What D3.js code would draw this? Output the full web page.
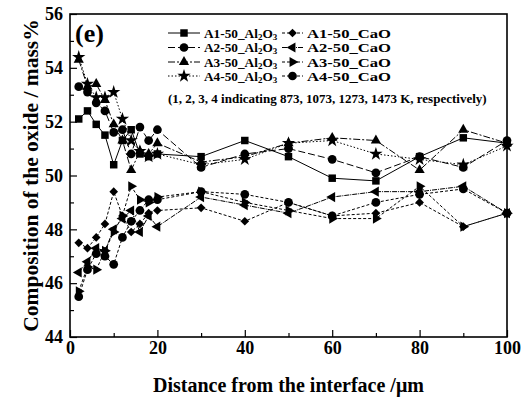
<!DOCTYPE html>
<html>
<head>
<meta charset="utf-8">
<script src="https://cdn.jsdelivr.net/npm/d3@7"></script>
<style>
  body { margin: 0; background: #fff; }
  svg text { font-family: "Liberation Serif", "Times New Roman", serif; font-weight: bold; }
</style>
</head>
<body>
<div id="chart"></div>
<script>
"use strict";

// distance from the interface (um)
const distances = [2, 4, 6, 8, 10, 12, 14, 16, 18, 20, 30, 40, 50, 60, 70, 80, 90, 100];

// Al2O3 content, mass%
const a1Al = [52.1, 52.4, 51.9, 51.5, 50.4, 51.3, 51.7, 50.8, 50.7, 50.8, 50.7, 51.3, 50.7, 49.9, 49.8, 50.7, 51.4, 51.2];
const a2Al = [53.3, 53.1, 52.7, 52.4, 51.6, 51.7, 50.8, 51.8, 51.3, 51.7, 50.3, 50.8, 51.0, 50.6, 50.1, 50.7, 50.3, 51.3];
const a3Al = [54.3, 53.3, 53.4, 52.8, 51.9, 51.3, 50.2, 50.9, 50.8, 51.2, 50.5, 50.7, 51.2, 51.4, 51.3, 50.2, 51.7, 51.2];
const a4Al = [54.4, 53.4, 52.9, 52.9, 53.1, 52.1, 51.3, 50.9, 50.7, 50.8, 50.4, 50.6, 51.2, 51.3, 50.8, 50.6, 50.4, 51.1];

// CaO content, mass%
const a1Ca = [47.5, 47.3, 47.7, 48.2, 49.4, 48.5, 47.9, 48.2, 48.6, 48.7, 48.8, 48.3, 49.0, 48.5, 48.6, 49.0, 48.1, 48.6];
const a2Ca = [46.4, 46.8, 47.3, 47.2, 48.0, 48.4, 48.7, 47.9, 48.5, 48.1, 49.2, 48.9, 48.6, 49.2, 49.4, 49.4, 49.6, 48.6];
const a3Ca = [45.7, 46.6, 46.5, 47.2, 47.9, 48.5, 49.6, 49.1, 49.0, 49.2, 49.4, 49.0, 48.7, 48.4, 48.4, 49.6, 48.1, 48.6];
const a4Ca = [45.5, 46.5, 47.1, 47.0, 46.7, 47.7, 48.3, 48.7, 49.1, 49.1, 49.4, 49.3, 49.0, 48.5, 49.0, 49.3, 49.5, 48.6];

const xTicks = [0, 20, 40, 60, 80, 100];
const yTicks = [44, 46, 48, 50, 52, 54, 56];

const series = [
  {name: "A1-50_Al", sub: true, values: a1Al, symbol: "square", dash: null},
  {name: "A2-50_Al", sub: true, values: a2Al, symbol: "circle", dash: "7,3"},
  {name: "A3-50_Al", sub: true, values: a3Al, symbol: "triangle", dash: "7,2,2,2"},
  {name: "A4-50_Al", sub: true, values: a4Al, symbol: "star", dash: "1.5,2"},
  {name: "A1-50_CaO", sub: false, values: a1Ca, symbol: "diamond", dash: "3,2"},
  {name: "A2-50_CaO", sub: false, values: a2Ca, symbol: "left", dash: "5,1,1,1"},
  {name: "A3-50_CaO", sub: false, values: a3Ca, symbol: "right", dash: "3,2"},
  {name: "A4-50_CaO", sub: false, values: a4Ca, symbol: "circle", dash: "3,2"}
];

function symbolPath(kind) {
  if (kind === "square") return d3.symbol(d3.symbolSquare, 56)();
  if (kind === "circle") return d3.symbol(d3.symbolCircle, 60)();
  if (kind === "star") return d3.symbol(d3.symbolStar, 55)();
  if (kind === "diamond") return d3.symbol(d3.symbolDiamond2, 48)();
  return d3.symbol(d3.symbolTriangle, 45)();
}
function symbolRotate(kind) {
  if (kind === "left") return -90;
  if (kind === "right") return 90;
  return 0;
}

const W = 524, H = 400;
const margin = {top: 14, right: 17, bottom: 63, left: 70};
const width = W - margin.left - margin.right,
      height = H - margin.top - margin.bottom;

const svg = d3.select("#chart").append("svg")
    .attr("width", W)
    .attr("height", H);

const g = svg.append("g")
    .attr("transform", `translate(${margin.left}, ${margin.top})`);

const x = d3.scaleLinear().domain([0, 100]).range([0, width]);
const y = d3.scaleLinear().domain([44, 56]).range([height, 0]);

// minor ticks
g.append("g")
    .attr("transform", `translate(0, ${height})`)
    .call(d3.axisBottom(x).tickValues([10, 30, 50, 70, 90]).tickSize(-4).tickFormat(""))
    .call(a => a.select(".domain").remove());
g.append("g")
    .call(d3.axisLeft(y).tickValues([45, 47, 49, 51, 53, 55]).tickSize(-4).tickFormat(""))
    .call(a => a.select(".domain").remove());

// major ticks
const xAxis = g.append("g")
    .attr("transform", `translate(0, ${height})`)
    .call(d3.axisBottom(x).tickValues(xTicks).tickSize(-7).tickPadding(4).tickSizeOuter(0));
xAxis.selectAll("text").attr("font-size", 18).attr("fill", "#000");

const yAxis = g.append("g")
    .call(d3.axisLeft(y).tickValues(yTicks).tickSize(-7).tickPadding(7).tickSizeOuter(0));
yAxis.selectAll("text").attr("font-size", 18).attr("fill", "#000");

g.selectAll(".tick line").attr("stroke", "#000").attr("stroke-width", 1.2);
g.selectAll(".domain").remove();

// frame
g.append("rect")
    .attr("width", width)
    .attr("height", height)
    .attr("fill", "none")
    .attr("stroke", "#000")
    .attr("stroke-width", 1.6);

const line = d3.line()
    .x((d, i) => x(distances[i]))
    .y(d => y(d));

series.forEach(s => {
  g.append("path")
      .datum(s.values)
      .attr("fill", "none")
      .attr("stroke", "#000")
      .attr("stroke-width", 1)
      .attr("stroke-dasharray", s.dash)
      .attr("d", line);
  g.append("g").selectAll("path")
      .data(s.values)
      .join("path")
      .attr("d", symbolPath(s.symbol))
      .attr("transform", (d, i) => `translate(${x(distances[i])}, ${y(d)}) rotate(${symbolRotate(s.symbol)})`)
      .attr("fill", "#000");
});

// legend
const legRows = [33, 47.5, 62, 76];
series.forEach((s, k) => {
  const col = k < 4 ? 0 : 1;
  const row = k % 4;
  const x0 = col === 0 ? 168 : 282;
  const len = col === 0 ? 32 : 21;
  const ly = legRows[row];
  const lg = svg.append("g");
  lg.append("line")
      .attr("x1", x0).attr("x2", x0 + len)
      .attr("y1", ly).attr("y2", ly)
      .attr("stroke", "#000")
      .attr("stroke-width", 1)
      .attr("stroke-dasharray", s.dash);
  lg.append("path")
      .attr("d", symbolPath(s.symbol))
      .attr("transform", `translate(${x0 + len / 2}, ${ly}) rotate(${symbolRotate(s.symbol)})`);
  // the CaO labels are set wider than the Al2O3 ones in the original
  const t = lg.append("text")
      .attr("transform", `translate(${x0 + len + 4}, ${ly + 4.5}) scale(${col === 0 ? 1 : 1.25}, 1)`)
      .attr("font-size", 13.3);
  if (s.sub) {
    t.append("tspan").text(s.name);
    t.append("tspan").text("2").attr("font-size", 9).attr("dy", 2);
    t.append("tspan").text("O").attr("dy", -2);
    t.append("tspan").text("3").attr("font-size", 9).attr("dy", 2);
  } else {
    t.text(s.name);
  }
});

svg.append("text")
    .attr("x", 168)
    .attr("y", 103)
    .attr("font-size", 13)
    .text("(1, 2, 3, 4 indicating 873, 1073, 1273, 1473 K, respectively)");

// panel label
svg.append("text")
    .attr("x", 75)
    .attr("y", 42)
    .attr("font-size", 26)
    .text("(e)");

// axis titles
svg.append("text")
    .attr("x", margin.left + width / 2)
    .attr("y", 392)
    .attr("text-anchor", "middle")
    .attr("font-size", 20)
    .text("Distance from the interface /\u03bcm");

svg.append("text")
    .attr("transform", `translate(38, ${margin.top + height / 2}) rotate(-90)`)
    .attr("text-anchor", "middle")
    .attr("font-size", 21.5)
    .text("Composition of the oxide / mass%");
</script>
</body>
</html>
